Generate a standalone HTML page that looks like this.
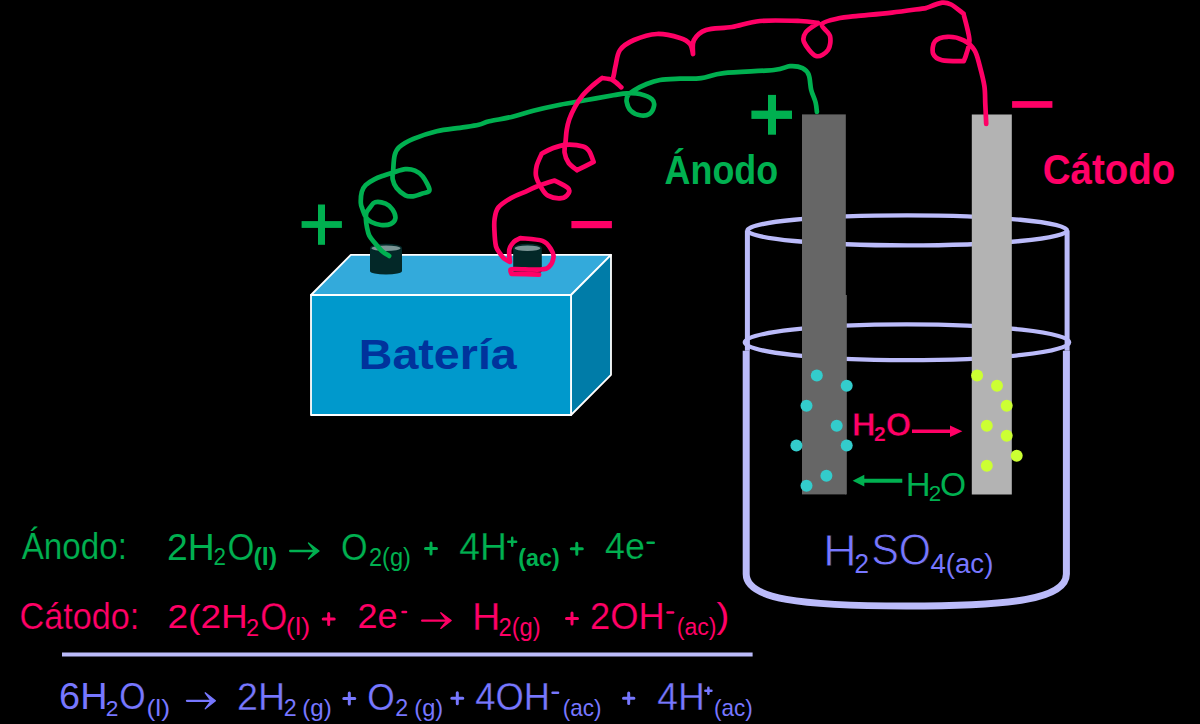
<!DOCTYPE html>
<html><head><meta charset="utf-8"><style>
html,body{margin:0;padding:0;background:#000;overflow:hidden}
svg{display:block}
text{font-family:"Liberation Sans", sans-serif}
</style></head><body>
<svg width="1200" height="724" viewBox="0 0 1200 724">
<rect width="1200" height="724" fill="#000"/>
<ellipse cx="907.25" cy="230.4" rx="159.75" ry="15" fill="none" stroke="#bbbbfa" stroke-width="4.4"/>
<ellipse cx="907" cy="342.3" rx="162.2" ry="17.9" fill="none" stroke="#bbbbfa" stroke-width="4.3"/>
<path d="M747.4 230.4V350.7M1067.1 230.4V350.7" stroke="#bbbbfa" stroke-width="5"/>
<path d="M746.2 350.7V574C746.2 599 800 606 906.3 606C1012.5 606 1066.4 599 1066.4 574V350.7" stroke="#bbbbfa" stroke-width="7" fill="none"/>
<rect x="802" y="114.4" width="43.8" height="380" fill="#666666"/><rect x="845" y="295" width="1.8" height="199.4" fill="#666666"/>
<rect x="971.8" y="114.5" width="40" height="380" fill="#b3b3b3"/>
<circle cx="816.8" cy="375.5" r="6" fill="#33cccc"/>
<circle cx="846.7" cy="385.7" r="6" fill="#33cccc"/>
<circle cx="806.5" cy="405.8" r="6" fill="#33cccc"/>
<circle cx="836.7" cy="425.8" r="6" fill="#33cccc"/>
<circle cx="796.4" cy="445.5" r="6" fill="#33cccc"/>
<circle cx="846.7" cy="445.5" r="6" fill="#33cccc"/>
<circle cx="826.4" cy="475.7" r="6" fill="#33cccc"/>
<circle cx="806.5" cy="485.7" r="6" fill="#33cccc"/>
<circle cx="977.1" cy="375.5" r="6" fill="#ccff33"/>
<circle cx="997" cy="385.7" r="6" fill="#ccff33"/>
<circle cx="1006.7" cy="405.8" r="6" fill="#ccff33"/>
<circle cx="986.8" cy="425.8" r="6" fill="#ccff33"/>
<circle cx="1006.7" cy="435.8" r="6" fill="#ccff33"/>
<circle cx="1016.7" cy="455.7" r="6" fill="#ccff33"/>
<circle cx="986.8" cy="465.8" r="6" fill="#ccff33"/>
<path d="M912 431.25H952" stroke="#ff0066" stroke-width="3.6"/><path d="M962.4 431.25L950 425.5V437Z" fill="#ff0066"/>
<path d="M863 480.7H902.3" stroke="#00b050" stroke-width="4"/><path d="M852.6 480.7L864.3 474.8V486.6Z" fill="#00b050"/>
<rect x="62" y="652.5" width="690.6" height="4" fill="#bbbbfa"/>
<rect x="301.6" y="221.1" width="40.3" height="6.8" fill="#00b050"/><rect x="318" y="204.5" width="7" height="40.3" fill="#00b050"/>
<rect x="571.4" y="221" width="40.5" height="7.2" fill="#ff0066"/>
<rect x="751.4" y="110.6" width="40.6" height="8.3" fill="#00b050"/><rect x="768" y="94.9" width="8" height="39.8" fill="#00b050"/>
<rect x="1012.1" y="101.1" width="40.3" height="6.7" fill="#ff0066"/>
<path d="M311 295L350.8 254.8H611L571 295Z" fill="#33aadb" stroke="#fff" stroke-width="1.8" stroke-linejoin="round"/>
<path d="M571 295L611 254.8V374.8L571 415Z" fill="#007ca8" stroke="#fff" stroke-width="1.8" stroke-linejoin="round"/>
<path d="M311 295H571V415H311Z" fill="#0099cc" stroke="#fff" stroke-width="1.8" stroke-linejoin="round"/>
<path d="M370 248V271A16 3.6 0 0 0 402 271V248Z" fill="#032828"/>
<ellipse cx="386" cy="248" rx="16" ry="4.2" fill="#032828"/>
<ellipse cx="386" cy="248.2" rx="14.5" ry="2.8" fill="#7a9494"/>
<path d="M513.2 248V271A14.3 3.6 0 0 0 541.8 271V248Z" fill="#032828"/>
<ellipse cx="527.5" cy="248" rx="14.3" ry="4.2" fill="#032828"/>
<ellipse cx="527.5" cy="248.2" rx="12.8" ry="2.8" fill="#7a9494"/>
<path d="M389.1 255.9C387.9 255.1 384.2 253.1 381.9 251.0C379.6 248.9 377.2 245.9 375.1 243.3C373.0 240.7 370.7 238.3 369.3 235.6C367.9 232.9 367.5 229.6 366.9 226.9C366.3 224.2 366.0 221.6 365.9 219.2C365.8 216.8 365.8 214.4 366.5 212.5C367.2 210.6 368.6 209.2 370.0 207.5C371.4 205.8 372.5 202.8 375.1 202.2C377.7 201.6 382.8 202.5 385.7 203.7C388.6 204.9 390.9 207.1 392.5 209.5C394.1 211.9 395.7 215.8 395.4 218.2C395.1 220.6 393.0 222.9 390.6 224.0C388.2 225.1 384.1 225.3 380.9 225.0C377.7 224.7 373.8 223.3 371.3 222.0C368.8 220.7 367.3 219.3 365.9 217.2C364.4 215.1 363.5 211.9 362.6 209.5C361.8 207.1 360.9 205.9 360.8 203.0C360.7 200.1 361.0 194.9 361.8 191.9C362.6 188.9 363.5 187.2 365.6 185.1C367.7 183.0 371.2 180.9 374.3 179.3C377.4 177.7 380.9 176.6 384.0 175.5C387.1 174.4 389.6 173.7 393.2 172.6C396.8 171.5 401.7 169.5 405.3 169.2C408.9 168.9 412.1 169.4 415.0 170.6C417.9 171.8 420.3 173.2 422.7 176.4C425.1 179.6 429.5 187.2 429.5 190.0C429.5 192.8 425.4 192.3 422.7 193.4C419.9 194.5 415.9 196.0 413.0 196.3C410.1 196.6 408.0 196.7 405.3 195.3C402.6 193.9 398.7 190.7 396.6 188.0C394.5 185.3 393.3 182.4 392.7 179.3C392.1 176.2 392.9 173.7 393.2 169.7C393.5 165.7 393.7 159.0 394.7 155.2C395.7 151.4 396.2 149.7 399.3 147.0C402.4 144.3 407.1 141.4 413.3 138.8C419.5 136.2 428.9 133.1 436.7 131.2C444.5 129.4 453.0 128.8 460.0 127.8C467.0 126.7 473.8 125.9 478.7 124.8C483.6 123.7 483.6 122.6 489.2 121.3C494.8 120.0 505.1 118.5 512.5 116.7C519.9 114.9 525.4 112.7 533.3 110.7C541.2 108.7 551.1 106.5 560.0 104.7C568.9 102.9 577.8 101.6 586.7 100.0C595.6 98.4 606.6 96.4 613.3 95.3C620.0 94.2 622.2 93.5 626.7 93.3C631.2 93.1 635.8 93.0 640.0 94.0C644.2 95.0 649.7 97.3 652.0 99.3C654.3 101.3 654.5 103.5 654.0 106.0C653.5 108.5 651.6 112.5 649.3 114.0C647.0 115.5 643.1 115.8 640.0 115.3C636.9 114.8 632.9 112.9 630.7 110.7C628.5 108.5 627.2 104.6 626.7 102.0C626.2 99.4 626.7 97.3 628.0 95.3C629.3 93.3 631.6 91.9 634.7 90.0C637.8 88.1 642.5 85.7 646.7 84.0C650.9 82.3 654.5 80.9 660.0 80.0C665.5 79.1 673.1 79.0 680.0 78.7C686.9 78.4 694.0 79.0 701.2 78.1C708.5 77.2 711.7 74.4 723.8 73.1C735.8 71.8 762.7 71.1 773.8 70.0C784.8 68.9 785.2 66.6 790.0 66.2C794.8 65.9 799.4 66.6 802.5 68.1C805.6 69.6 807.3 71.3 808.8 75.0C810.2 78.7 810.1 85.4 811.2 90.0C812.4 94.6 814.7 98.8 815.6 102.5C816.5 106.2 816.7 110.3 816.9 111.9" stroke="#00b050" stroke-width="4.7" fill="none" stroke-linecap="round" stroke-linejoin="round"/>
<path d="M539.1 274.6C534.5 274.5 516.1 273.9 511.5 273.8M511.5 273.8C511.3 273.2 510.1 271.3 510.5 270.5C510.9 269.7 509.1 269.2 514.0 269.0C519.0 268.8 534.4 269.9 540.2 269.5C546.1 269.1 546.9 268.8 549.1 266.8C551.3 264.8 553.1 260.4 553.5 257.5C553.9 254.7 553.1 252.5 551.3 249.7C549.5 246.9 547.6 242.8 542.5 240.9C537.4 239.0 524.1 238.6 520.4 238.1M520.4 238.1C519.3 238.8 515.6 240.1 513.7 242.0C511.9 243.9 509.9 246.4 509.3 249.7C508.7 253.0 509.8 259.9 509.9 261.9M509.9 261.9C508.9 261.3 505.6 259.8 504.0 258.5C502.4 257.2 501.8 256.1 500.5 254.1C499.2 252.1 497.0 250.4 496.0 246.4C495.0 242.4 494.6 234.6 494.4 230.0C494.2 225.4 494.0 222.8 494.6 219.0C495.2 215.2 495.6 211.0 498.3 207.5C501.0 204.0 505.9 201.0 510.7 198.2C515.5 195.4 522.6 193.0 527.3 190.9C532.0 188.8 534.1 187.4 538.7 185.7C543.3 184.0 552.0 181.4 554.7 180.6M554.7 180.6C556.9 181.8 565.4 185.7 567.7 187.8C570.0 189.9 569.7 191.3 568.7 193.0C567.7 194.7 565.0 197.8 561.5 198.2C558.0 198.6 551.5 197.5 548.0 195.6C544.5 193.7 542.8 190.0 540.8 186.8C538.8 183.6 536.8 179.9 536.1 176.4C535.4 172.9 535.7 169.9 536.6 166.1C537.5 162.3 540.9 155.7 541.8 153.6M541.8 153.6C543.5 152.8 548.1 150.0 552.1 148.5C556.1 147.0 560.4 145.2 565.6 144.8C570.8 144.5 579.2 145.3 583.2 146.4C587.2 147.5 587.7 149.0 589.4 151.6C591.1 154.2 592.9 160.2 593.6 161.9M593.6 161.9C590.8 163.3 579.8 168.8 577.0 170.2M577.0 170.2C575.6 169.0 570.8 165.9 568.7 163.0C566.6 160.1 565.1 156.2 564.6 152.6C564.1 149.0 565.2 145.0 565.6 141.2C566.0 137.4 566.1 133.7 566.7 130.0C567.3 126.3 568.0 123.1 569.3 119.3C570.6 115.5 572.5 111.3 574.7 107.3C576.9 103.3 579.8 98.8 582.7 95.3C585.6 91.8 588.8 88.9 592.0 86.0C595.2 83.1 600.3 79.3 602.0 78.0M602.0 78.0C603.8 78.3 609.3 78.5 612.5 80.0C615.7 81.5 619.8 86.1 621.3 87.3M612.5 80.0C612.8 79.0 613.5 76.3 614.0 74.0C614.5 71.7 614.5 70.0 615.5 66.0C616.5 62.0 616.9 54.3 620.0 50.0C623.1 45.7 627.8 42.7 634.0 40.0C640.2 37.3 649.3 34.3 657.0 34.0C664.7 33.7 674.5 36.3 680.0 38.0C685.5 39.7 687.8 41.3 690.0 44.0C692.2 46.7 692.5 52.3 693.0 54.0M693.0 54.0C693.2 51.7 691.8 44.0 694.0 40.0C696.2 36.0 699.7 32.2 706.0 30.0C712.3 27.8 723.0 28.5 732.0 27.0C741.0 25.5 748.7 22.0 760.0 21.0C771.3 20.0 790.3 20.7 800.0 21.0C809.7 21.3 815.0 22.7 818.0 23.0M818.0 23.0C816.0 24.5 808.3 28.8 806.0 32.0C803.7 35.2 802.3 38.0 804.0 42.0C805.7 46.0 812.0 54.7 816.0 56.0C820.0 57.3 825.7 53.3 828.0 50.0C830.3 46.7 831.0 40.3 830.0 36.0C829.0 31.7 820.3 27.0 822.0 24.0C823.7 21.0 834.3 19.3 840.0 18.0C845.7 16.7 847.4 17.1 856.0 16.2C864.6 15.3 880.2 13.9 891.9 12.6C903.6 11.2 920.3 8.8 926.0 8.1M926.0 8.1C928.7 7.2 937.9 3.3 942.1 2.7C946.3 2.1 947.5 2.7 951.1 4.5C954.7 6.3 961.4 12.2 963.5 13.7M963.5 13.7C964.5 18.0 968.9 32.8 969.4 39.5C969.9 46.2 967.3 50.3 966.4 53.9C965.5 57.5 964.2 59.9 963.7 61.1M963.7 61.1C960.1 61.0 947.2 61.4 942.1 60.2C937.0 59.0 934.4 57.0 933.2 53.9C932.0 50.8 932.6 44.1 935.0 41.3C937.4 38.4 942.7 36.9 947.5 36.8C952.3 36.6 959.2 38.1 963.7 40.4C968.2 42.6 971.8 45.9 974.5 50.3C977.2 54.6 978.2 60.5 979.9 66.5C981.5 72.5 983.5 79.9 984.4 86.2C985.3 92.5 985.0 97.9 985.3 104.2C985.6 110.5 986.1 120.6 986.2 123.9" stroke="#ff0066" stroke-width="4.7" fill="none" stroke-linecap="round" stroke-linejoin="round"/>
<text x="21.70" y="558.93" font-size="37.30" font-weight="400" fill="#00b050" textLength="105.27" lengthAdjust="spacingAndGlyphs" stroke="#000" stroke-width="0.19">Ánodo:</text>
<text x="167.13" y="559.50" font-size="36.43" font-weight="400" fill="#00b050" textLength="47.69" lengthAdjust="spacingAndGlyphs">2H</text>
<text x="213.58" y="565.40" font-size="24.14" font-weight="400" fill="#00b050" textLength="12.46" lengthAdjust="spacingAndGlyphs">2</text>
<text x="227.47" y="559.53" font-size="37.46" font-weight="400" fill="#00b050" textLength="26.89" lengthAdjust="spacingAndGlyphs" stroke="#000" stroke-width="0.21">O</text>
<text x="253.44" y="565.21" font-size="24.26" font-weight="700" fill="#00b050" textLength="23.71" lengthAdjust="spacingAndGlyphs">(l)</text>
<text x="341.04" y="559.52" font-size="37.54" font-weight="400" fill="#00b050" textLength="26.60" lengthAdjust="spacingAndGlyphs" stroke="#000" stroke-width="0.22">O</text>
<text x="368.92" y="566.23" font-size="25.11" font-weight="400" fill="#00b050" textLength="41.96" lengthAdjust="spacingAndGlyphs">2(g)</text>
<text x="459.25" y="560.00" font-size="38.41" font-weight="400" fill="#00b050" textLength="47.67" lengthAdjust="spacingAndGlyphs" stroke="#000" stroke-width="0.29">4H</text>
<text x="518.34" y="565.86" font-size="24.47" font-weight="700" fill="#00b050" textLength="41.29" lengthAdjust="spacingAndGlyphs">(ac)</text>
<text x="604.98" y="559.22" font-size="37.57" font-weight="400" fill="#00b050" textLength="39.83" lengthAdjust="spacingAndGlyphs" stroke="#000" stroke-width="0.22">4e</text>
<text x="19.59" y="628.92" font-size="37.84" font-weight="400" fill="#ff0066" textLength="119.56" lengthAdjust="spacingAndGlyphs" stroke="#000" stroke-width="0.24">Cátodo:</text>
<text x="167.44" y="627.85" font-size="34.04" font-weight="400" fill="#ff0066" textLength="80.43" lengthAdjust="spacingAndGlyphs">2(2H</text>
<text x="246.07" y="635.90" font-size="24.14" font-weight="400" fill="#ff0066" textLength="13.12" lengthAdjust="spacingAndGlyphs">2</text>
<text x="260.16" y="629.52" font-size="38.03" font-weight="400" fill="#ff0066" textLength="27.00" lengthAdjust="spacingAndGlyphs" stroke="#000" stroke-width="0.26">O</text>
<text x="285.85" y="634.63" font-size="24.15" font-weight="400" fill="#ff0066" textLength="24.46" lengthAdjust="spacingAndGlyphs">(l)</text>
<text x="357.50" y="627.95" font-size="34.65" font-weight="400" fill="#ff0066" textLength="40.02" lengthAdjust="spacingAndGlyphs">2e</text>
<text x="472.04" y="630.00" font-size="38.84" font-weight="400" fill="#ff0066" textLength="28.50" lengthAdjust="spacingAndGlyphs" stroke="#000" stroke-width="0.33">H</text>
<text x="498.51" y="636.47" font-size="24.89" font-weight="400" fill="#ff0066" textLength="42.17" lengthAdjust="spacingAndGlyphs">2(g)</text>
<text x="590.09" y="629.03" font-size="37.04" font-weight="400" fill="#ff0066" textLength="74.58" lengthAdjust="spacingAndGlyphs" stroke="#000" stroke-width="0.17">2OH</text>
<text x="676.72" y="635.11" font-size="23.30" font-weight="400" fill="#ff0066" textLength="39.72" lengthAdjust="spacingAndGlyphs">(ac)</text>
<text x="716.52" y="628.07" font-size="35.85" font-weight="400" fill="#ff0066" textLength="12.81" lengthAdjust="spacingAndGlyphs">)</text>
<text x="59.11" y="709.13" font-size="36.62" font-weight="400" fill="#7777ff" textLength="48.36" lengthAdjust="spacingAndGlyphs">6H</text>
<text x="105.86" y="715.80" font-size="22.57" font-weight="400" fill="#7777ff" textLength="12.70" lengthAdjust="spacingAndGlyphs">2</text>
<text x="119.31" y="709.13" font-size="37.32" font-weight="400" fill="#7777ff" textLength="26.31" lengthAdjust="spacingAndGlyphs" stroke="#000" stroke-width="0.20">O</text>
<text x="146.40" y="715.59" font-size="23.40" font-weight="400" fill="#7777ff" textLength="23.65" lengthAdjust="spacingAndGlyphs">(l)</text>
<text x="237.12" y="710.00" font-size="39.00" font-weight="400" fill="#7777ff" textLength="48.14" lengthAdjust="spacingAndGlyphs" stroke="#000" stroke-width="0.35">2H</text>
<text x="283.84" y="716.00" font-size="23.86" font-weight="400" fill="#7777ff" textLength="12.94" lengthAdjust="spacingAndGlyphs">2</text>
<text x="302.25" y="716.25" font-size="24.04" font-weight="400" fill="#7777ff" textLength="29.55" lengthAdjust="spacingAndGlyphs">(g)</text>
<text x="367.24" y="709.62" font-size="37.61" font-weight="400" fill="#7777ff" textLength="27.46" lengthAdjust="spacingAndGlyphs" stroke="#000" stroke-width="0.22">O</text>
<text x="395.14" y="716.00" font-size="23.86" font-weight="400" fill="#7777ff" textLength="12.94" lengthAdjust="spacingAndGlyphs">2</text>
<text x="414.28" y="716.25" font-size="24.04" font-weight="400" fill="#7777ff" textLength="28.89" lengthAdjust="spacingAndGlyphs">(g)</text>
<text x="475.27" y="709.62" font-size="38.45" font-weight="400" fill="#7777ff" textLength="74.80" lengthAdjust="spacingAndGlyphs" stroke="#000" stroke-width="0.30">4OH</text>
<text x="562.65" y="715.79" font-size="23.40" font-weight="400" fill="#7777ff" textLength="38.75" lengthAdjust="spacingAndGlyphs">(ac)</text>
<text x="657.25" y="710.00" font-size="39.57" font-weight="400" fill="#7777ff" textLength="47.67" lengthAdjust="spacingAndGlyphs" stroke="#000" stroke-width="0.40">4H</text>
<text x="713.95" y="715.79" font-size="23.40" font-weight="400" fill="#7777ff" textLength="38.75" lengthAdjust="spacingAndGlyphs">(ac)</text>
<text x="664.62" y="183.99" font-size="41.49" font-weight="700" fill="#00b050" textLength="113.45" lengthAdjust="spacingAndGlyphs">Ánodo</text>
<text x="1042.76" y="184.07" font-size="42.84" font-weight="700" fill="#ff0066" textLength="132.63" lengthAdjust="spacingAndGlyphs">Cátodo</text>
<text x="358.74" y="368.83" font-size="41.79" font-weight="700" fill="#00339c" textLength="158.03" lengthAdjust="spacingAndGlyphs">Batería</text>
<text x="851.67" y="436.10" font-size="34.06" font-weight="700" fill="#ff0066" textLength="24.03" lengthAdjust="spacingAndGlyphs" stroke="#000" stroke-width="0.77">H</text>
<text x="874.07" y="441.20" font-size="21.14" font-weight="700" fill="#ff0066" textLength="11.69" lengthAdjust="spacingAndGlyphs" stroke="#000" stroke-width="0.19">2</text>
<text x="885.79" y="436.47" font-size="33.10" font-weight="700" fill="#ff0066" textLength="25.45" lengthAdjust="spacingAndGlyphs" stroke="#000" stroke-width="0.63">O</text>
<text x="905.84" y="496.20" font-size="34.06" font-weight="400" fill="#00b050" textLength="24.89" lengthAdjust="spacingAndGlyphs">H</text>
<text x="928.88" y="501.00" font-size="21.71" font-weight="400" fill="#00b050" textLength="12.46" lengthAdjust="spacingAndGlyphs">2</text>
<text x="940.02" y="495.87" font-size="33.10" font-weight="400" fill="#00b050" textLength="26.08" lengthAdjust="spacingAndGlyphs">O</text>
<text x="823.00" y="565.50" font-size="44.57" font-weight="400" fill="#7777ff" textLength="33.85" lengthAdjust="spacingAndGlyphs" stroke="#000" stroke-width="0.86">H</text>
<text x="854.40" y="573.00" font-size="27.86" font-weight="400" fill="#7777ff" textLength="14.51" lengthAdjust="spacingAndGlyphs">2</text>
<text x="871.18" y="565.06" font-size="44.37" font-weight="400" fill="#7777ff" textLength="59.88" lengthAdjust="spacingAndGlyphs" stroke="#000" stroke-width="0.84">SO</text>
<text x="930.45" y="573.14" font-size="27.93" font-weight="400" fill="#7777ff" textLength="62.92" lengthAdjust="spacingAndGlyphs">4(ac)</text>
<path d="M425.50 548.5H436.50M431 543.00V554.00" stroke="#00b050" stroke-width="3" stroke-linecap="round" fill="none"/>
<path d="M508.25 541.8H516.15M512.2 537.85V545.75" stroke="#00b050" stroke-width="2.5" stroke-linecap="round" fill="none"/>
<path d="M571.30 548.7H582.30M576.8 543.20V554.20" stroke="#00b050" stroke-width="3" stroke-linecap="round" fill="none"/>
<path d="M323.20 619H334.20M328.7 613.50V624.50" stroke="#ff0066" stroke-width="3" stroke-linecap="round" fill="none"/>
<path d="M566.50 618.5H577.50M572 613.00V624.00" stroke="#ff0066" stroke-width="3" stroke-linecap="round" fill="none"/>
<path d="M343.80 698.5H354.80M349.3 693.00V704.00" stroke="#7777ff" stroke-width="3" stroke-linecap="round" fill="none"/>
<path d="M451.80 698.3H462.80M457.3 692.80V703.80" stroke="#7777ff" stroke-width="3" stroke-linecap="round" fill="none"/>
<path d="M623.50 698.3H633.90M628.7 693.10V703.50" stroke="#7777ff" stroke-width="3" stroke-linecap="round" fill="none"/>
<path d="M705.35 690.7H711.45M708.4 687.65V693.75" stroke="#7777ff" stroke-width="2.5" stroke-linecap="round" fill="none"/>
<path d="M647.55 542.7H653.75" stroke="#00b050" stroke-width="2.5" stroke-linecap="round" fill="none"/>
<path d="M402.55 612H406.05" stroke="#ff0066" stroke-width="2.5" stroke-linecap="round" fill="none"/>
<path d="M667.55 612.5H673.15" stroke="#ff0066" stroke-width="2.5" stroke-linecap="round" fill="none"/>
<path d="M552.55 692.7H558.05" stroke="#7777ff" stroke-width="2.5" stroke-linecap="round" fill="none"/>
<path d="M290.15 551H314.05" stroke="#00b050" stroke-width="2.3" stroke-linecap="round"/>
<path d="M319.00 551L308.50 543.00L314.61 551L308.50 559.00Z" fill="#00b050" stroke="#00b050" stroke-width="1.3" stroke-linejoin="round"/>
<path d="M422.20 620.6H446.30" stroke="#ff0066" stroke-width="2.4" stroke-linecap="round"/>
<path d="M451.20 620.6L440.80 612.75L446.85 620.6L440.80 628.45Z" fill="#ff0066" stroke="#ff0066" stroke-width="1.3" stroke-linejoin="round"/>
<path d="M186.95 700.8H210.60" stroke="#7777ff" stroke-width="2.3" stroke-linecap="round"/>
<path d="M215.40 700.8L205.20 692.80L211.14 700.8L205.20 708.80Z" fill="#7777ff" stroke="#7777ff" stroke-width="1.3" stroke-linejoin="round"/>
</svg>
</body></html>
